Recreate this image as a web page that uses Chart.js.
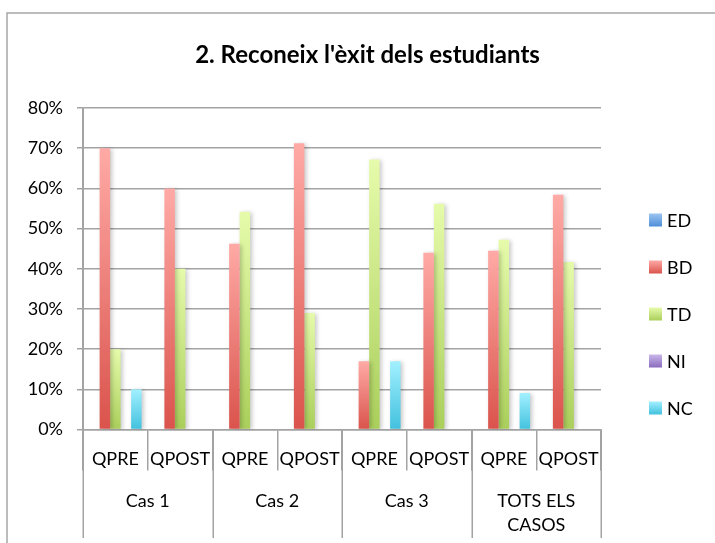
<!DOCTYPE html>
<html>
<head>
<meta charset="utf-8">
<title>2. Reconeix l'èxit dels estudiants</title>
<script src="https://cdn.jsdelivr.net/npm/chart.js@4/dist/chart.umd.min.js"></script>
<style>
  html, body { margin: 0; padding: 0; background: #ffffff; }
  #wrap { width: 715px; height: 543px; position: relative; }
</style>
</head>
<body>
<div id="wrap"><canvas id="chart" width="715" height="543"></canvas></div>
<script>
// Survey answers per case, before (QPRE) and after (QPOST), in percent
const categories = ['QPRE', 'QPOST', 'QPRE', 'QPOST', 'QPRE', 'QPOST', 'QPRE', 'QPOST'];
const groups = ['Cas 1', 'Cas 2', 'Cas 3', ['TOTS ELS', 'CASOS']];
const seriesNames = ['ED', 'BD', 'TD', 'NI', 'NC'];
const edValues = [0, 0, 0, 0, 0, 0, 0, 0];
const bdValues = [70, 60, 46.2, 71.2, 17, 44, 44.5, 58.4];
const tdValues = [20, 40, 54.2, 29, 67.2, 56.2, 47.2, 41.7];
const niValues = [0, 0, 0, 0, 0, 0, 0, 0];
const ncValues = [10, 0, 0, 0, 17, 0, 9.1, 0];
const yTicks = [0, 10, 20, 30, 40, 50, 60, 70, 80];

const titleText = "2. Reconeix l'èxit dels estudiants";

// Top / bottom colours of each series' vertical gradient
const palette = {
  ED: ['#9cc4f1', '#4f8ed8'],
  BD: ['#ffaaa6', '#da534c'],
  TD: ['#e6fbab', '#aacf5b'],
  NI: ['#cab6ea', '#8a6cbd'],
  NC: ['#a2f0ff', '#42c1de']
};

const FONT = 'Lato, "Open Sans", sans-serif';
const GRID = '#a3a3a3';

// Each bar gets its own light-to-dark gradient, from its top down to the baseline
function barFill(name) {
  const stops = palette[name];
  return (ctx) => {
    const chart = ctx.chart;
    if (ctx.type !== 'data' || !chart.chartArea || !ctx.parsed) return stops[1];
    const y = chart.scales.y;
    const top = y.getPixelForValue(ctx.parsed.y);
    const base = y.getPixelForValue(0);
    if (!isFinite(top) || Math.abs(base - top) < 0.5) return stops[1];
    const g = chart.ctx.createLinearGradient(0, top, 0, base);
    g.addColorStop(0, stops[0]);
    g.addColorStop(1, stops[1]);
    return g;
  };
}

const valuesByName = { ED: edValues, BD: bdValues, TD: tdValues, NI: niValues, NC: ncValues };

const datasets = seriesNames.map(name => ({
  label: name,
  data: valuesByName[name],
  backgroundColor: barFill(name),
  borderWidth: 0,
  categoryPercentage: 0.81,
  barPercentage: 1.0
}));

// Outer frame of the chart object
const framePlugin = {
  id: 'frame',
  beforeDraw(chart) {
    const c = chart.ctx;
    c.save();
    c.fillStyle = '#ffffff';
    c.fillRect(0, 0, chart.width, chart.height);
    c.strokeStyle = '#a6a6a6';
    c.lineWidth = 1.5;
    c.beginPath();
    c.moveTo(chart.width, 13);
    c.lineTo(7, 13);
    c.lineTo(7, chart.height);
    c.stroke();
    c.restore();
  }
};

// Soft drop shadow behind the bars
const shadowPlugin = {
  id: 'barShadow',
  beforeDatasetsDraw(chart) {
    const c = chart.ctx;
    c.save();
    c.shadowColor = 'rgba(0,0,0,0.22)';
    c.shadowBlur = 4;
    c.shadowOffsetX = 2;
    c.shadowOffsetY = 1;
  },
  afterDatasetsDraw(chart) {
    chart.ctx.restore();
  }
};

// Second row of the category axis: case names and the long separators
const groupAxisPlugin = {
  id: 'groupAxis',
  afterDraw(chart) {
    const x = chart.scales.x;
    const c = chart.ctx;
    const n = categories.length;
    const per = n / groups.length;
    const step = (x.right - x.left) / n;
    const top = chart.chartArea.bottom;
    c.save();
    c.strokeStyle = GRID;
    c.lineWidth = 1.5;
    for (let g = 0; g <= groups.length; g++) {
      const px = Math.round(x.left + g * per * step) + 0.25;
      c.beginPath();
      c.moveTo(px, g === 0 ? chart.chartArea.top : top);
      c.lineTo(px, x.bottom - 5);
      c.stroke();
    }
    c.fillStyle = '#000000';
    c.font = '18px ' + FONT;
    c.textAlign = 'center';
    c.textBaseline = 'middle';
    groups.forEach((label, g) => {
      const cx = (x.getPixelForValue(g * per) + x.getPixelForValue(g * per + per - 1)) / 2;
      const lines = Array.isArray(label) ? label : [label];
      lines.forEach((t, i) => c.fillText(t, cx, top + 72 + i * 24));
    });
    c.restore();
  }
};

// Series key to the right of the plot, with gradient swatches like the bars
const keyPlugin = {
  id: 'seriesKey',
  afterDraw(chart) {
    const c = chart.ctx;
    const boxX = chart.chartArea.right + 48;
    const firstY = 220;
    const rowGap = 47;
    const size = 13;
    c.save();
    c.font = '18px ' + FONT;
    c.textAlign = 'left';
    c.textBaseline = 'middle';
    chart.data.datasets.forEach((ds, i) => {
      const cy = firstY + i * rowGap;
      const stops = palette[ds.label];
      const g = c.createLinearGradient(0, cy - size / 2, 0, cy + size / 2);
      g.addColorStop(0, stops[0]);
      g.addColorStop(1, stops[1]);
      c.fillStyle = g;
      c.fillRect(boxX, cy - size / 2, size, size);
      c.fillStyle = '#000000';
      c.fillText(ds.label, boxX + size + 5, cy + 1);
    });
    c.restore();
  }
};

new Chart(document.getElementById('chart'), {
  type: 'bar',
  data: { labels: categories, datasets },
  plugins: [framePlugin, shadowPlugin, groupAxisPlugin, keyPlugin],
  options: {
    responsive: false,
    animation: false,
    events: [],
    layout: { padding: { left: 20, right: 0, top: 0, bottom: 0 } },
    plugins: {
      tooltip: { enabled: false },
      legend: { display: false },
      title: {
        display: true,
        text: titleText,
        color: '#000000',
        font: { family: FONT, size: 24, weight: 'bold', lineHeight: 1.2 },
        padding: { top: 41, bottom: 38.2 }
      }
    },
    scales: {
      x: {
        type: 'category',
        offset: true,
        afterFit(scale) { scale.height = 113.5; },
        grid: {
          display: true,
          offset: true,
          drawOnChartArea: false,
          drawTicks: true,
          tickLength: 41,
          color: GRID,
          lineWidth: 1.5
        },
        border: { display: true, color: GRID, width: 1.5 },
        ticks: {
          color: '#000000',
          font: { family: FONT, size: 18 },
          padding: -22,
          maxRotation: 0,
          minRotation: 0,
          autoSkip: false
        }
      },
      y: {
        min: 0,
        max: 80,
        afterFit(scale) { scale.width = 63; },
        afterBuildTicks(scale) { scale.ticks = yTicks.map(v => ({ value: v })); },
        grid: {
          color: GRID,
          lineWidth: 1.5,
          drawTicks: true,
          tickLength: 6
        },
        border: { display: true, color: GRID, width: 1.5 },
        ticks: {
          color: '#000000',
          font: { family: FONT, size: 18 },
          padding: 14,
          callback: v => v + '%'
        }
      },
      // empty strip that holds the space used by the series key
      keySpace: {
        type: 'linear',
        position: 'right',
        display: true,
        afterFit(scale) { scale.width = 114; },
        grid: { display: false, drawTicks: false },
        border: { display: false },
        ticks: { display: false }
      }
    }
  }
});
</script>
</body>
</html>
